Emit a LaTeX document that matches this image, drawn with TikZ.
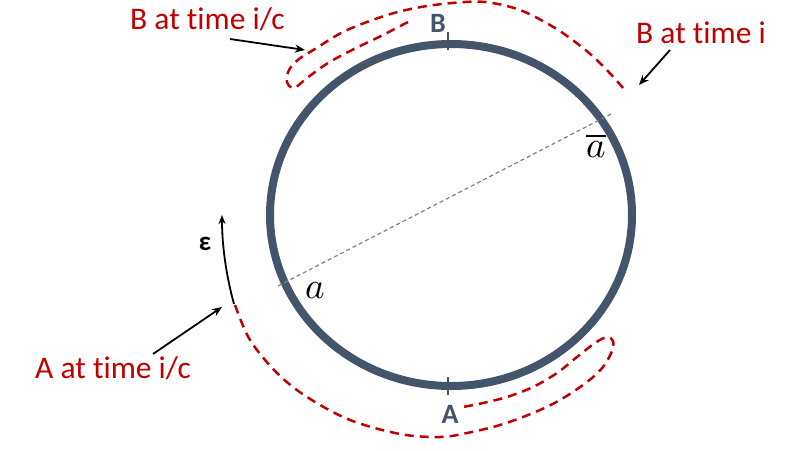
\documentclass[tikz,border=0pt]{standalone}
\usepackage{fontspec}
\newfontfamily\lab[Ligatures=NoCommon]{Carlito}
\usetikzlibrary{arrows.meta}
\definecolor{ring}{RGB}{68,84,106}
\definecolor{dred}{RGB}{192,0,0}
\definecolor{dgray}{RGB}{128,128,128}
\tikzset{
 ringline/.style={draw=ring, line width=8pt},
 reddash/.style={draw=dred, line width=2.5pt, dash pattern=on 9pt off 6pt},
 diam/.style={draw=dgray, line width=1.2pt, dash pattern=on 4pt off 3pt},
 pointer/.style={draw=black, line width=1.8pt, -{Stealth[length=10pt,width=8pt]}},
 epsarrow/.style={draw=black, line width=1.8pt, -{Stealth[length=9pt,width=7pt]}},
 redlabel/.style={text=dred, font=\lab\fontsize{31.5}{33}\selectfont, inner sep=0pt, anchor=base west},
 ptlabel/.style={text=ring, font=\lab\bfseries\fontsize{28}{30}\selectfont, inner sep=0pt, anchor=base},
 epslabel/.style={text=black, font=\lab\bfseries\fontsize{27}{29}\selectfont, inner sep=0pt, anchor=base},
 mathlabel/.style={text=black, inner sep=0pt, anchor=base},
 tickmark/.style={draw=ring, line width=1.5pt},
}
\begin{document}
\begin{tikzpicture}[x=1pt,y=-1pt]
\useasboundingbox (0,0) rectangle (800,450);
% ring
\coordinate (c) at (451,215);
\draw[ringline] (c) ellipse [x radius=181, y radius=171];
% diameter
\coordinate (da) at (278,286);
\coordinate (db) at (611,114);
\draw[diam] (da) -- (db);
% ticks
\coordinate (tb1) at (448,32); \coordinate (tb2) at (448,50);
\coordinate (ta1) at (448,377); \coordinate (ta2) at (448,395);
\draw[tickmark] (tb1) -- (tb2);
\draw[tickmark] (ta1) -- (ta2);
% top dashed loop (B at time i/c and B at time i)
\draw[reddash] plot[smooth, tension=0.55] coordinates {(408,22) (381,36) (354,49) (328,63) (307,78) (294,88) (287,82) (289,70) (299,59) (315,49) (341,33) (367,22) (394,13) (421,7) (452,3) (485,2) (520,10) (555,28) (583,48) (604,67) (624,89)};
% bottom dashed loop (A at time i/c)
\draw[reddash] plot[smooth, tension=0.55] coordinates {(235,305) (250,340) (277,373) (307,397) (350,420) (400,434) (440,437) (467,433) (500,425) (533,413) (560,400) (587,382) (603,367) (612,351) (613,341) (607,337) (595,343) (577,357) (557,373) (533,387) (507,397) (483,403) (463,407)};
% epsilon arc
\coordinate (e1) at (234,304);
\coordinate (e2) at (222,215);
\draw[epsarrow] (e1) .. controls (226,275) and (222,245) .. (e2);
% labels
\node[redlabel] (lbic) at (130,29) {B at time i/c};
\node[redlabel] (lbi) at (636,43) {B at time i};
\node[redlabel] (laic) at (35,378) {A at time i/c};
\node[ptlabel] (lB) at (438,32) {B};
\node[ptlabel] (lA) at (450,423) {A};
\node[epslabel] (leps) at (205,250) {ε};
\node[mathlabel] (la) at (315,298) {\scalebox{3.7}{$a$}};
\node[mathlabel] (lab) at (596,157) {\scalebox{3.7}{$\overline{a}$}};
% pointer arrows
\coordinate (p1s) at (230,39); \coordinate (p1e) at (305,50);
\coordinate (p2s) at (670,50); \coordinate (p2e) at (639,85);
\coordinate (p3s) at (153,354); \coordinate (p3e) at (222,307);
\draw[pointer] (p1s) -- (p1e);
\draw[pointer] (p2s) -- (p2e);
\draw[pointer] (p3s) -- (p3e);
\end{tikzpicture}
\end{document}
